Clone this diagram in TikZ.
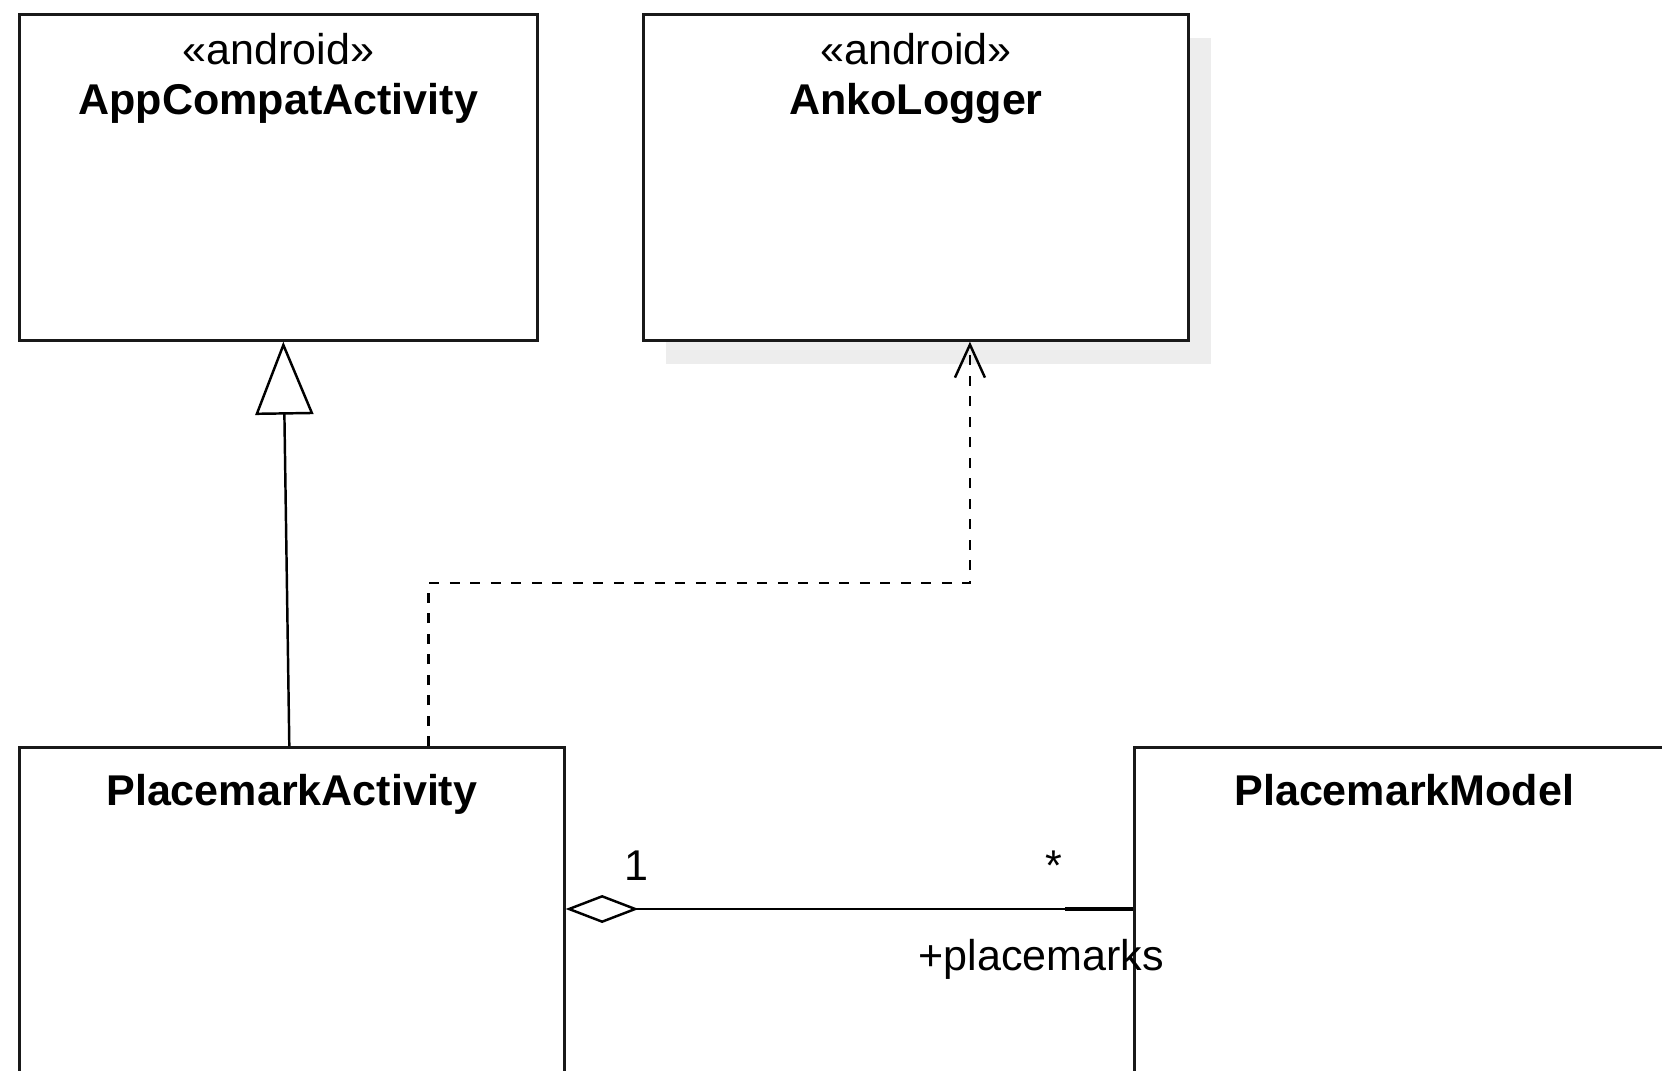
\documentclass[tikz,border=0pt]{standalone}
\usepackage{fontspec}
\setmainfont{Liberation Sans}
\usetikzlibrary{shapes,shadows,positioning,arrows.meta}

\begin{document}
\begin{tikzpicture} [
    line width=1.4pt,
    font=\fontsize{24.5}{29}\selectfont,
  ]

  \tikzstyle{umlclass} = [
    rectangle,
    line width=1.5pt,
    draw=black!90,
    fill=white,
    minimum height=6.52cm,
    inner sep=0pt,
  ]
  \tikzstyle{bigclass} = [
    umlclass,
    anchor=north west,
    minimum height=12cm,
  ]
  \tikzstyle{stereo} = [anchor=base, inner sep=0pt]
  \tikzstyle{classname} = [stereo, font=\fontsize{24.5}{29}\selectfont\bfseries]
  \tikzstyle{inherit} = [-{Triangle[open,length=1.46cm,width=1.16cm]}]
  \tikzstyle{realize} = [
    dash pattern=on 0.2cm off 0.21cm,
    -{Straight Barb[length=0.66cm,width=0.6cm]},
  ]
  \tikzstyle{aggreg} = [{Diamond[open,length=1.46cm,width=0.56cm]}-]

  \clip (0,0) rectangle (33.24,-21.42);

  \node[umlclass,minimum width=10.36cm,anchor=north west] (compat) at (0.36,-0.26) {};
  \node[umlclass,minimum width=10.9cm,right=2.07cm of compat,
        drop shadow={shadow xshift=0.46cm,shadow yshift=-0.47cm,fill=black!7,opacity=1}] (anko) {};
  \node[bigclass,minimum width=10.9cm] (pact)   at (0.36,-14.92)  {};
  \node[bigclass,minimum width=10.8cm] (pmodel) at (22.66,-14.92) {};

  \node[stereo]    (compatst)   at ([yshift=-1.04cm]compat.north) {«android»};
  \node[classname] (compatname) at ([yshift=-2.03cm]compat.north) {AppCompatActivity};
  \node[stereo]    (ankost)     at ([yshift=-1.04cm]anko.north)   {«android»};
  \node[classname] (ankoname)   at ([yshift=-2.03cm]anko.north)   {AnkoLogger};
  \node[classname] (pactname)   at ([yshift=-1.18cm]pact.north)   {PlacemarkActivity};
  \node[classname] (pmodelname) at ([yshift=-1.18cm]pmodel.north) {PlacemarkModel};

  \draw[inherit] ([xshift=-0.05cm]pact.north) -- ([xshift=0.1cm]compat.south);
  \draw[realize] ([xshift=2.73cm]pact.north) -- ++(0,3.26cm) -| ([xshift=1.08cm]anko.south);
  \draw[aggreg] ([yshift=-3.26cm]pact.north east) -- ([yshift=-3.26cm]pmodel.north west)
    node[pos=0.125,anchor=base,yshift=0.58cm]  (one)  {1}
    node[pos=0.86,anchor=base,yshift=0.58cm]   (many) {*}
    node[pos=0.838,anchor=base,yshift=-1.22cm] (role) {+placemarks};
  \draw[line width=2.6pt] ([xshift=-1.36cm,yshift=-3.26cm]pmodel.north west) -- ([yshift=-3.26cm]pmodel.north west);

\end{tikzpicture}
\end{document}
